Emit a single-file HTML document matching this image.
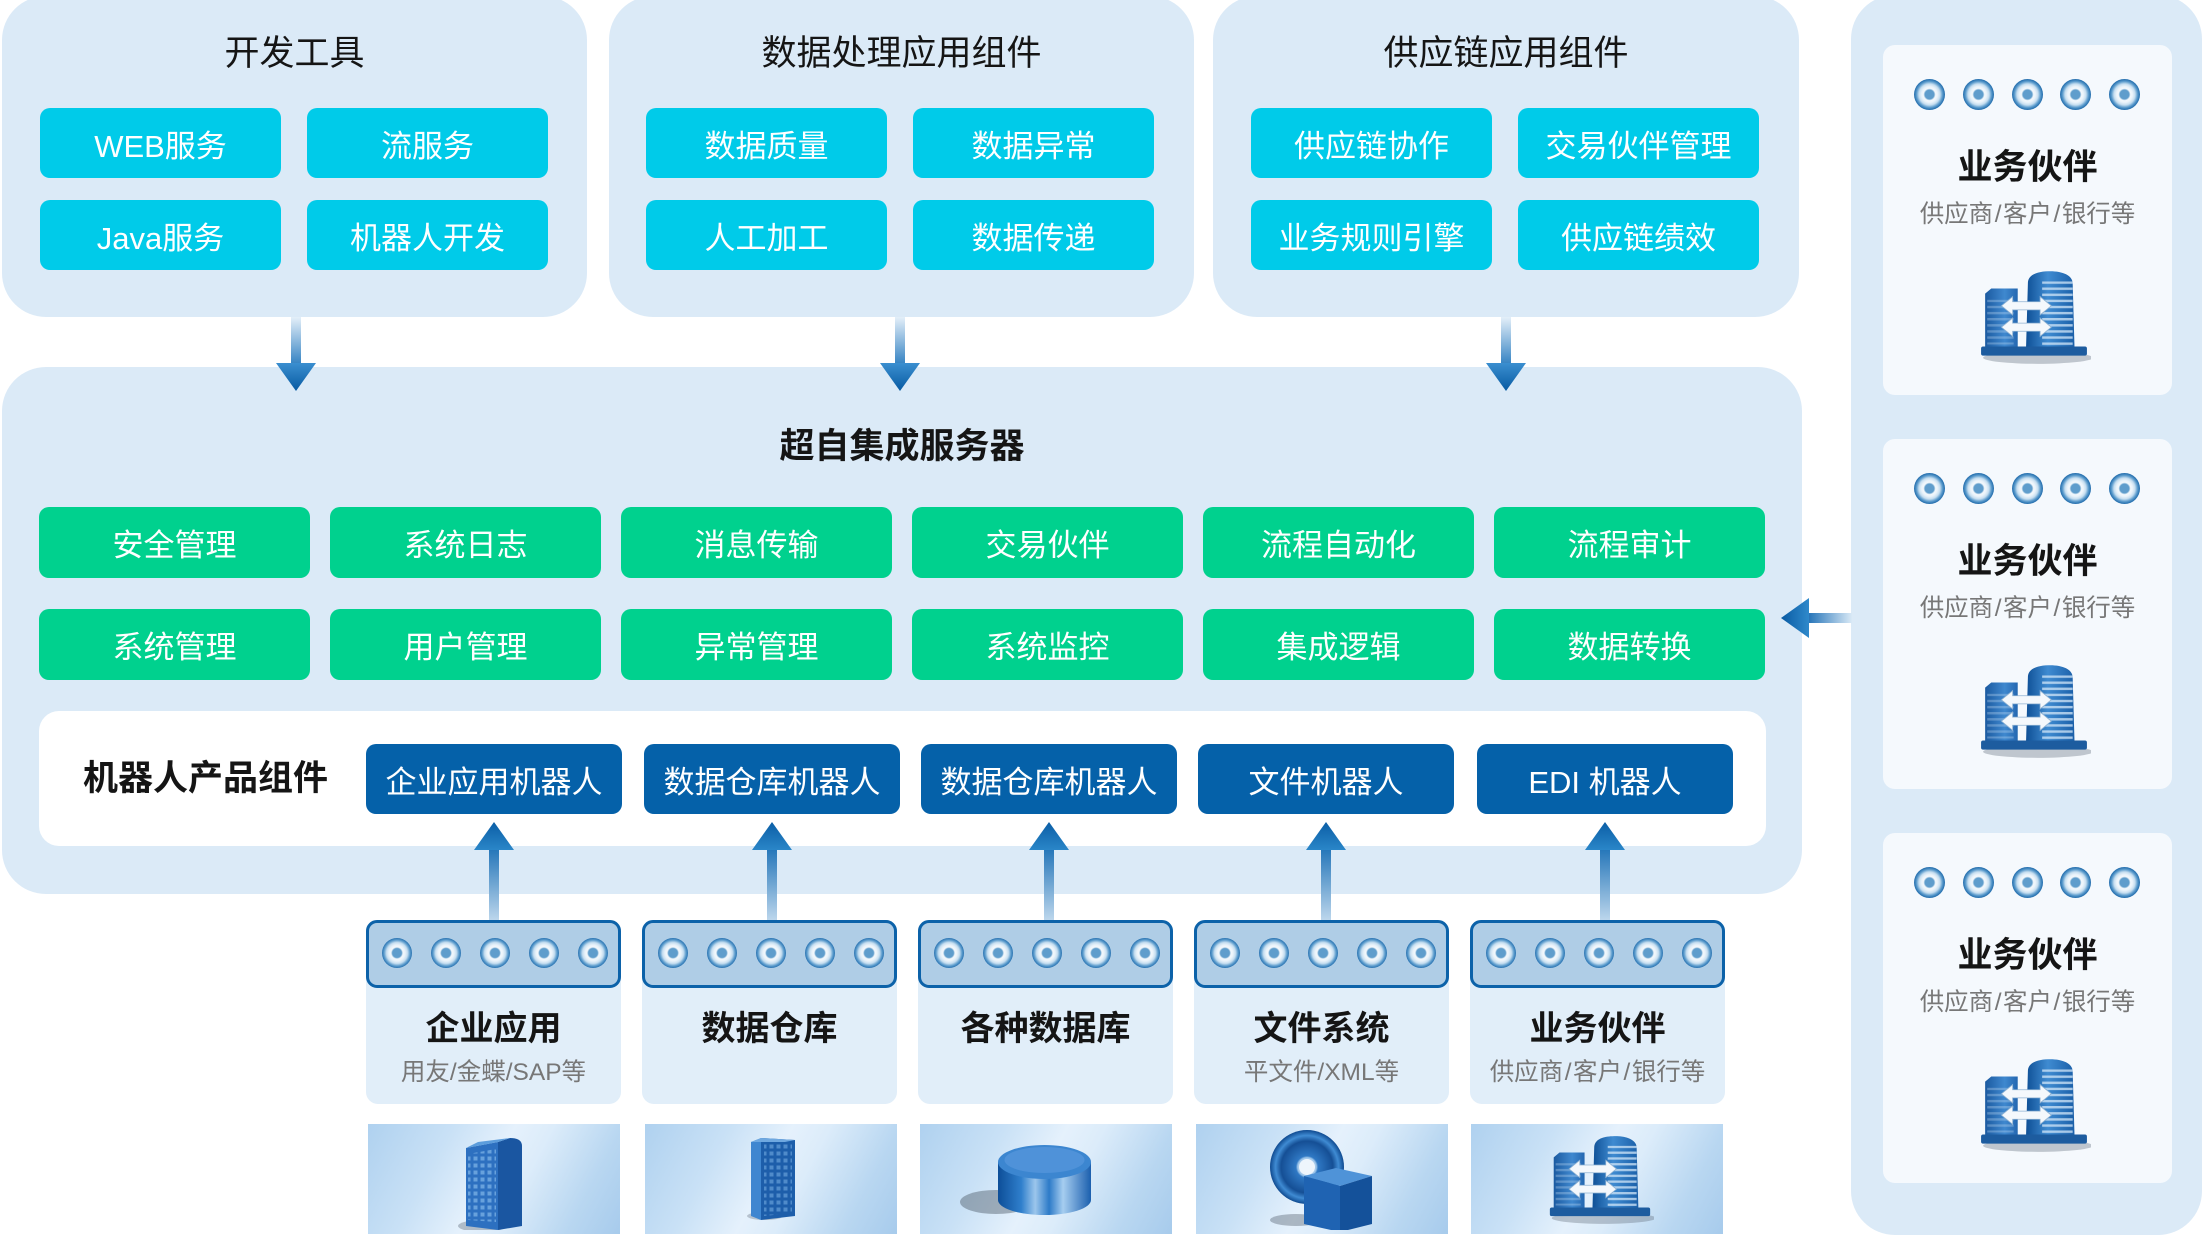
<!DOCTYPE html>
<html><head><meta charset="utf-8">
<style>
*{box-sizing:border-box}
body{margin:0;width:2202px;height:1230px;position:relative;overflow:hidden;background:#fff;font-family:"Liberation Sans","Noto Sans CJK SC",sans-serif;color:#151515}
.pn{position:absolute;background:#dbeaf7;border-radius:44px}
.t{position:absolute;text-align:center;white-space:nowrap}
.b{position:absolute;display:flex;align-items:center;justify-content:center;color:#fff;font-size:31px;border-radius:10px;white-space:nowrap}
.cy{background:#00cbe9;height:70px;width:241px}
.gr{background:#00d18e;width:271px;height:71px}
.db{background:#0561a9;width:256px;height:70px}
.c{position:absolute;width:30px;height:30px;border-radius:50%;background:radial-gradient(circle at 50% 50%,#5f9dcc 0,#5f9dcc 4.5px,#f3f8fc 6px,#eaf3fa 8px,#c6def0 10.5px,#5c9ccd 13px,#2a73b1 15px)}
.rc .c{width:31px;height:31px}
.card{position:absolute;width:255px;top:920px;height:184px;background:#e1eef9;border-radius:12px}
.bar{position:absolute;left:0;top:0;width:255px;height:68px;background:#afcde6;border:3px solid #0c62a9;border-radius:11px}
.ct{position:absolute;left:0;width:255px;text-align:center;font-size:34px;font-weight:bold;top:86px;line-height:46px;white-space:nowrap}
.cs{position:absolute;left:0;width:255px;text-align:center;font-size:24.5px;color:#777;top:137px;line-height:32px;white-space:nowrap}
.sl{margin:0 1.5px}
.img{position:absolute;top:1124px;height:110px;width:252px;background:linear-gradient(118deg,#afd1ef 0%,#c9e1f6 28%,#e5f1fc 48%,#dcecfa 60%,#b9d7f1 82%,#a7cbec 100%)}
.rc{position:absolute;left:1883px;width:289px;height:350px;background:#f5f9fd;border-radius:12px}
.rt{position:absolute;left:0;width:289px;text-align:center;font-size:35px;font-weight:bold;top:99px;line-height:48px;white-space:nowrap}
.rs{position:absolute;left:0;width:289px;text-align:center;font-size:24.5px;color:#777;top:154px;line-height:32px;white-space:nowrap}
</style></head>
<body>

<!-- top panels -->
<div class="pn" style="left:2px;top:-4px;width:585px;height:321px"></div>
<div class="pn" style="left:609px;top:-4px;width:585px;height:321px"></div>
<div class="pn" style="left:1213px;top:-4px;width:586px;height:321px"></div>
<!-- right panel -->
<div class="pn" style="left:1851px;top:-5px;width:351px;height:1240px"></div>
<!-- main panel -->
<div class="pn" style="left:2px;top:367px;width:1800px;height:527px"></div>

<div class="t" style="left:2px;width:585px;top:29px;line-height:50px;font-size:35px">开发工具</div>
<div class="t" style="left:609px;width:585px;top:29px;line-height:50px;font-size:35px">数据处理应用组件</div>
<div class="t" style="left:1213px;width:586px;top:29px;line-height:50px;font-size:35px">供应链应用组件</div>

<div class="b cy" style="left:40px;top:108px">WEB服务</div>
<div class="b cy" style="left:307px;top:108px">流服务</div>
<div class="b cy" style="left:40px;top:200px">Java服务</div>
<div class="b cy" style="left:307px;top:200px">机器人开发</div>

<div class="b cy" style="left:646px;top:108px">数据质量</div>
<div class="b cy" style="left:913px;top:108px">数据异常</div>
<div class="b cy" style="left:646px;top:200px">人工加工</div>
<div class="b cy" style="left:913px;top:200px">数据传递</div>

<div class="b cy" style="left:1251px;top:108px">供应链协作</div>
<div class="b cy" style="left:1518px;top:108px">交易伙伴管理</div>
<div class="b cy" style="left:1251px;top:200px">业务规则引擎</div>
<div class="b cy" style="left:1518px;top:200px">供应链绩效</div>

<div class="t" style="left:2px;width:1800px;top:422px;line-height:50px;font-size:35px;font-weight:bold">超自集成服务器</div>

<div class="b gr" style="left:39px;top:507px">安全管理</div>
<div class="b gr" style="left:330px;top:507px">系统日志</div>
<div class="b gr" style="left:621px;top:507px">消息传输</div>
<div class="b gr" style="left:912px;top:507px">交易伙伴</div>
<div class="b gr" style="left:1203px;top:507px">流程自动化</div>
<div class="b gr" style="left:1494px;top:507px">流程审计</div>
<div class="b gr" style="left:39px;top:609px">系统管理</div>
<div class="b gr" style="left:330px;top:609px">用户管理</div>
<div class="b gr" style="left:621px;top:609px">异常管理</div>
<div class="b gr" style="left:912px;top:609px">系统监控</div>
<div class="b gr" style="left:1203px;top:609px">集成逻辑</div>
<div class="b gr" style="left:1494px;top:609px">数据转换</div>

<div style="position:absolute;left:39px;top:711px;width:1727px;height:135px;background:#fff;border-radius:20px"></div>
<div class="t" style="left:83px;top:754px;line-height:50px;font-size:35px;font-weight:bold">机器人产品组件</div>
<div class="b db" style="left:366px;top:744px">企业应用机器人</div>
<div class="b db" style="left:644px;top:744px">数据仓库机器人</div>
<div class="b db" style="left:921px;top:744px">数据仓库机器人</div>
<div class="b db" style="left:1198px;top:744px">文件机器人</div>
<div class="b db" style="left:1477px;top:744px">EDI 机器人</div>

<!-- bottom cards -->
<div class="card" style="left:366px">
 <div class="bar"></div>
 <div class="c" style="left:16px;top:18px"></div><div class="c" style="left:65px;top:18px"></div><div class="c" style="left:114px;top:18px"></div><div class="c" style="left:163px;top:18px"></div><div class="c" style="left:212px;top:18px"></div>
 <div class="ct">企业应用</div>
 <div class="cs">用友/金蝶/SAP等</div>
</div>
<div class="card" style="left:642px">
 <div class="bar"></div>
 <div class="c" style="left:16px;top:18px"></div><div class="c" style="left:65px;top:18px"></div><div class="c" style="left:114px;top:18px"></div><div class="c" style="left:163px;top:18px"></div><div class="c" style="left:212px;top:18px"></div>
 <div class="ct">数据仓库</div>
</div>
<div class="card" style="left:918px">
 <div class="bar"></div>
 <div class="c" style="left:16px;top:18px"></div><div class="c" style="left:65px;top:18px"></div><div class="c" style="left:114px;top:18px"></div><div class="c" style="left:163px;top:18px"></div><div class="c" style="left:212px;top:18px"></div>
 <div class="ct">各种数据库</div>
</div>
<div class="card" style="left:1194px">
 <div class="bar"></div>
 <div class="c" style="left:16px;top:18px"></div><div class="c" style="left:65px;top:18px"></div><div class="c" style="left:114px;top:18px"></div><div class="c" style="left:163px;top:18px"></div><div class="c" style="left:212px;top:18px"></div>
 <div class="ct">文件系统</div>
 <div class="cs">平文件/XML等</div>
</div>
<div class="card" style="left:1470px">
 <div class="bar"></div>
 <div class="c" style="left:16px;top:18px"></div><div class="c" style="left:65px;top:18px"></div><div class="c" style="left:114px;top:18px"></div><div class="c" style="left:163px;top:18px"></div><div class="c" style="left:212px;top:18px"></div>
 <div class="ct">业务伙伴</div>
 <div class="cs">供应商<span class="sl">/</span>客户<span class="sl">/</span>银行等</div>
</div>

<div class="img" style="left:368px"></div>
<div class="img" style="left:645px"></div>
<div class="img" style="left:920px"></div>
<div class="img" style="left:1196px"></div>
<div class="img" style="left:1471px"></div>

<!-- right cards -->
<div class="rc" style="top:45px">
 <div class="c" style="left:31px;top:34px"></div><div class="c" style="left:80px;top:34px"></div><div class="c" style="left:129px;top:34px"></div><div class="c" style="left:177px;top:34px"></div><div class="c" style="left:226px;top:34px"></div>
 <div class="rt">业务伙伴</div>
 <div class="rs">供应商<span class="sl">/</span>客户<span class="sl">/</span>银行等</div>
</div>
<div class="rc" style="top:439px">
 <div class="c" style="left:31px;top:34px"></div><div class="c" style="left:80px;top:34px"></div><div class="c" style="left:129px;top:34px"></div><div class="c" style="left:177px;top:34px"></div><div class="c" style="left:226px;top:34px"></div>
 <div class="rt">业务伙伴</div>
 <div class="rs">供应商<span class="sl">/</span>客户<span class="sl">/</span>银行等</div>
</div>
<div class="rc" style="top:833px">
 <div class="c" style="left:31px;top:34px"></div><div class="c" style="left:80px;top:34px"></div><div class="c" style="left:129px;top:34px"></div><div class="c" style="left:177px;top:34px"></div><div class="c" style="left:226px;top:34px"></div>
 <div class="rt">业务伙伴</div>
 <div class="rs">供应商<span class="sl">/</span>客户<span class="sl">/</span>银行等</div>
</div>

<svg width="2202" height="1230" viewBox="0 0 2202 1230" style="position:absolute;left:0;top:0" xmlns="http://www.w3.org/2000/svg">
<defs>
 <linearGradient id="gDown" x1="0" y1="0" x2="0" y2="1"><stop offset="0" stop-color="#e4eff9"/><stop offset="1" stop-color="#3583c3"/></linearGradient>
 <linearGradient id="gUp" x1="0" y1="1" x2="0" y2="0"><stop offset="0" stop-color="#bcd6ec"/><stop offset="1" stop-color="#2576b9"/></linearGradient>
 <linearGradient id="gLeft" x1="1" y1="0" x2="0" y2="0"><stop offset="0" stop-color="#d9e9f6"/><stop offset="1" stop-color="#1f70b6"/></linearGradient>
 <linearGradient id="hDown" x1="0" y1="0" x2="0" y2="1"><stop offset="0" stop-color="#3b8fd0"/><stop offset="1" stop-color="#075aa2"/></linearGradient>
 <linearGradient id="hUp" x1="0" y1="1" x2="0" y2="0"><stop offset="0" stop-color="#2a86c8"/><stop offset="1" stop-color="#0b5ea6"/></linearGradient>
 <linearGradient id="hLeft" x1="1" y1="0" x2="0" y2="0"><stop offset="0" stop-color="#2f89cb"/><stop offset="1" stop-color="#0a5ba3"/></linearGradient>
 <linearGradient id="tw" x1="0" y1="0" x2="1" y2="0"><stop offset="0" stop-color="#0e4f95"/><stop offset=".45" stop-color="#3f8bd1"/><stop offset="1" stop-color="#1a5fa8"/></linearGradient>
 <linearGradient id="lb" x1="0" y1="0" x2="1" y2="0"><stop offset="0" stop-color="#1b5aa0"/><stop offset=".6" stop-color="#3f88cf"/><stop offset="1" stop-color="#2467b0"/></linearGradient>
 <linearGradient id="cyl" x1="0" y1="0" x2="1" y2="0"><stop offset="0" stop-color="#0d4e98"/><stop offset=".25" stop-color="#2f7fcc"/><stop offset=".4" stop-color="#9cc6ec"/><stop offset=".55" stop-color="#2d7bc8"/><stop offset=".7" stop-color="#a6cdf0"/><stop offset="1" stop-color="#1b5fae"/></linearGradient>
 <radialGradient id="cd" cx="50%" cy="50%" r="50%"><stop offset="0" stop-color="#dfeefb"/><stop offset=".25" stop-color="#9fc6ea"/><stop offset=".3" stop-color="#2f78c4"/><stop offset=".7" stop-color="#154f95"/><stop offset=".85" stop-color="#3f8bd3"/><stop offset="1" stop-color="#0f4a90"/></radialGradient>
 <pattern id="stripe" width="4" height="6" patternUnits="userSpaceOnUse"><rect width="4" height="2.4" fill="#d3e7f8" opacity=".75"/></pattern>
 <pattern id="grid" width="7" height="7" patternUnits="userSpaceOnUse"><rect x="1.5" y="1.5" width="4" height="4" fill="#76aee4" opacity=".8"/></pattern>
 <symbol id="bld" viewBox="0 0 112 94">
  <ellipse cx="60" cy="87" rx="54" ry="6" fill="#5b6675" opacity=".35"/>
  <path d="M50 14 C50 4 62 2 72 2 C84 2 94 6 94 14 L96 84 L48 84 Z" fill="url(#tw)"/>
  <rect x="64" y="12" width="30" height="66" fill="url(#stripe)"/>
  <path d="M8 24 L14 19 L40 19 L40 82 L8 82 Z" fill="url(#lb)"/>
  <rect x="10" y="30" width="26" height="44" fill="url(#stripe)" opacity=".4"/>
  <rect x="4" y="76" width="104" height="9" rx="2" fill="#1d5c9f"/>
  <path d="M24 36 L35 27 L35 32 L62 32 L62 27 L73 36 L62 45 L62 40 L35 40 L35 45 Z" fill="#f4f8fc" stroke="#8fb2d2" stroke-width=".8"/>
  <path d="M24 57 L35 48 L35 53 L62 53 L62 48 L73 57 L62 66 L62 61 L35 61 L35 66 Z" fill="#f4f8fc" stroke="#8fb2d2" stroke-width=".8"/>
 </symbol>
</defs>

<!-- down arrows -->
<rect x="291" y="317" width="10" height="47" fill="url(#gDown)"/><polygon points="276,363 316,363 296,391" fill="url(#hDown)"/>
<rect x="895" y="317" width="10" height="47" fill="url(#gDown)"/><polygon points="880,363 920,363 900,391" fill="url(#hDown)"/>
<rect x="1501" y="317" width="10" height="47" fill="url(#gDown)"/><polygon points="1486,363 1526,363 1506,391" fill="url(#hDown)"/>

<!-- up arrows -->
<rect x="489" y="849" width="10" height="71" fill="url(#gUp)"/><polygon points="474,850 514,850 494,822" fill="url(#hUp)"/>
<rect x="767" y="849" width="10" height="71" fill="url(#gUp)"/><polygon points="752,850 792,850 772,822" fill="url(#hUp)"/>
<rect x="1044" y="849" width="10" height="71" fill="url(#gUp)"/><polygon points="1029,850 1069,850 1049,822" fill="url(#hUp)"/>
<rect x="1321" y="849" width="10" height="71" fill="url(#gUp)"/><polygon points="1306,850 1346,850 1326,822" fill="url(#hUp)"/>
<rect x="1600" y="849" width="10" height="71" fill="url(#gUp)"/><polygon points="1585,850 1625,850 1605,822" fill="url(#hUp)"/>

<!-- left arrow -->
<rect x="1807" y="613" width="45" height="10" fill="url(#gLeft)"/><polygon points="1781,618 1809,598 1809,638" fill="url(#hLeft)"/>

<!-- right card icons -->
<use href="#bld" x="1977" y="269" width="114" height="96"/>
<use href="#bld" x="1977" y="663" width="114" height="96"/>
<use href="#bld" x="1977" y="1057" width="114" height="96"/>
<!-- bottom card 5 icon -->
<use href="#bld" x="1546" y="1134" width="108" height="91"/>

<!-- enterprise rack -->
<g transform="translate(458,1134)">
 <ellipse cx="24" cy="92" rx="24" ry="6" fill="#4d5a68" opacity=".35"/>
 <path d="M8 14 L40 8 L40 96 L8 92 Z" fill="#2d70c0"/>
 <path d="M10 20 L38 15 L38 88 L10 86 Z" fill="url(#grid)"/>
 <path d="M40 8 L52 4 Q64 4 64 12 L64 92 L40 96 Z" fill="#1a56a1"/>
 <path d="M8 14 L20 8 L52 4 L40 8 Z" fill="#5c9ddc"/>
</g>
<!-- warehouse tall rack -->
<g transform="translate(747,1136)">
 <ellipse cx="18" cy="80" rx="18" ry="4" fill="#4d5a68" opacity=".3"/>
 <path d="M4 6 L14 2 L14 84 L4 80 Z" fill="#3f86d0"/>
 <path d="M14 2 L48 4 L48 80 L14 84 Z" fill="#1d5eaa"/>
 <path d="M17 7 L45 8 L45 77 L17 80 Z" fill="url(#grid)" opacity=".7"/>
 <path d="M4 6 L14 2 L48 4 L38 6 Z" fill="#6fa8e0"/>
</g>
<!-- database cylinder -->
<g transform="translate(998,1144)">
 <ellipse cx="-2" cy="58" rx="36" ry="12" fill="#3f4a58" opacity=".4"/>
 <path d="M0 18 L0 56 A46.5 15 0 0 0 93 56 L93 18 Z" fill="url(#cyl)"/>
 <ellipse cx="46.5" cy="18" rx="46.5" ry="17" fill="#3c86d0"/>
 <ellipse cx="46.5" cy="16" rx="40" ry="13" fill="#5b9be0" opacity=".6"/>
</g>
<!-- CD + cube -->
<g transform="translate(1266,1128)">
 <ellipse cx="30" cy="92" rx="26" ry="6" fill="#3f4a58" opacity=".35"/>
 <circle cx="41" cy="39" r="37" fill="url(#cd)"/>
 <circle cx="41" cy="39" r="8" fill="#eef5fc"/>
 <path d="M38 48 L70 40 L106 48 L74 58 Z" fill="#4f93d8"/>
 <path d="M38 48 L74 58 L74 104 L38 96 Z" fill="#1f63b2"/>
 <path d="M74 58 L106 48 L106 96 L74 104 Z" fill="#14519a"/>
</g>
</svg>
</body></html>
